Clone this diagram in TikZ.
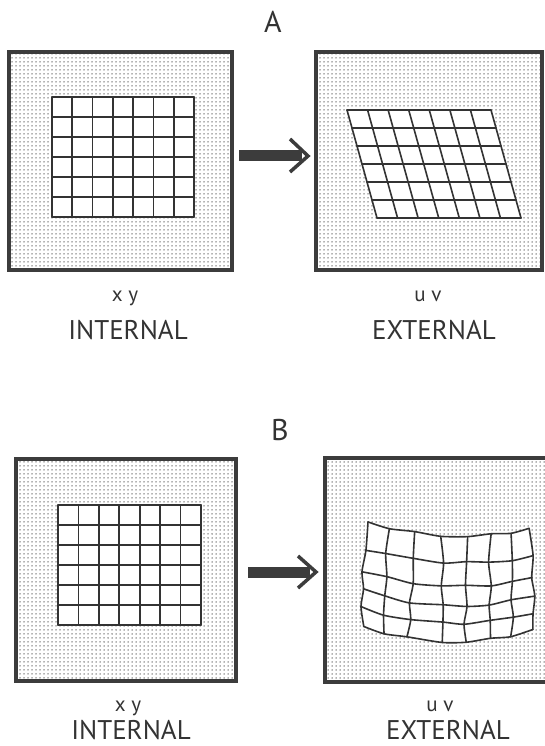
\documentclass[tikz,border=0pt]{standalone}
\usepackage{fontspec}
\setmainfont{PT Sans}
\usetikzlibrary{patterns}
\pgfdeclarepatternformonly{stipple}{\pgfqpoint{-1pt}{-1pt}}{\pgfqpoint{1pt}{1pt}}{\pgfqpoint{4pt}{4pt}}{\pgfpathcircle{\pgfqpoint{0pt}{0pt}}{0.75pt}\pgfusepath{fill}}
\definecolor{ink}{HTML}{333333}
\definecolor{framec}{HTML}{3C3C3C}
\begin{document}
\begin{tikzpicture}[x=1pt,y=-1pt,
  panel/.style={rectangle, draw=framec, line width=4.3pt, preaction={fill=white}, pattern=stipple, pattern color=black!60, inner sep=0pt, outer sep=0pt},
  gl/.style={draw=ink, line width=1.6pt, line join=round, line cap=round},
  shaft/.style={draw=framec, line width=11pt},
  barb/.style={draw=framec, line width=3.5pt, line join=miter},
  ttl/.style={text=ink, anchor=base, inner sep=0pt, font=\fontsize{30}{36}\selectfont},
  sml/.style={text=ink, anchor=base, inner sep=0pt, font=\fontsize{21}{25}\selectfont},
  big/.style={text=ink, anchor=base, inner sep=0pt, font=\fontsize{27}{32}\selectfont}]
\useasboundingbox (0,0) rectangle (545,746);
\fill[white] (0,0) rectangle (545,746);

% ---------------- Panel A ----------------
\node[ttl] (tA) at (273,33) {A};
\node[panel, minimum width=223pt, minimum height=218pt] (inA) at (120.5,161) {};
\node[panel, minimum width=226pt, minimum height=218pt] (exA) at (429,161) {};

% rectangular grid A
\fill[white] (52,97) rectangle (194,217);
\foreach \i in {0,...,7} \draw[gl] ({52+\i*142/7},97) -- ({52+\i*142/7},217);
\foreach \j in {0,...,6} \draw[gl] (52,{97+20*\j}) -- (194,{97+20*\j});

% sheared grid A
\fill[white] (347,110) -- (491,110) -- (521,218) -- (377,218) -- cycle;
\foreach \i in {0,...,7} \draw[gl] ({347+\i*144/7},110) -- ({377+\i*144/7},218);
\foreach \j in {0,...,6} \draw[gl] ({347+5*\j},{110+18*\j}) -- ({491+5*\j},{110+18*\j});

% arrow A
\coordinate (aA1) at (239,156);
\coordinate (aA2) at (302,156);
\coordinate (hA) at (308,156);
\draw[shaft] (aA1) -- (aA2);
\draw[barb] ([shift={(-18,-17)}]hA) -- (hA) -- ([shift={(-18,16)}]hA);

\node[sml] (xyA) at (125,301) {x y};
\node[big] (intA) at (128,339) {INTERNAL};
\node[sml] (uvA) at (428,301) {u v};
\node[big] (extA) at (434,339) {EXTERNAL};

% ---------------- Panel B ----------------
\node[ttl] (tB) at (280,440) {B};
\node[panel, minimum width=220pt, minimum height=222pt] (inB) at (126,570) {};
\node[panel, minimum width=227pt, minimum height=224pt] (exB) at (438.5,570) {};

% rectangular grid B
\fill[white] (58,505) rectangle (201,625);
\foreach \i in {0,...,7} \draw[gl] ({58+\i*143/7},505) -- ({58+\i*143/7},625);
\foreach \j in {0,...,6} \draw[gl] (58,{505+20*\j}) -- (201,{505+20*\j});

% distorted (hand-drawn) grid B
\foreach \j/\yl/\yr/\sg in {0/521/528/11.6, 1/549/557/9.2, 2/572/578/11.1, 3/590/596/13.1, 4/609/613/12.1, 5/627/630/13.6} {
  \foreach \i/\xt/\xb/\xg in {0/368/363/-3, 1/388/383/0, 2/415/408/0, 3/442/443/0, 4/467/465/0, 5/490/490/0, 6/512/512/0, 7/530/533/2} {
    \pgfmathsetmacro\px{\xt+(\xb-\xt)*\j/5+\xg*sin(36*\j)+1.4*sin(97*\i+151*\j)}
    \pgfmathsetmacro\py{\yl+(\yr-\yl)*((\px-365)/167)+\sg*4*((\px-365)/167)*((532-\px)/167)+1.2*sin(131*\i+71*\j)}
    \coordinate (g-\i-\j) at (\px,\py);
  }
}
\fill[white] (g-0-0) -- (g-1-0) -- (g-2-0) -- (g-3-0) -- (g-4-0) -- (g-5-0) -- (g-6-0) -- (g-7-0)
  -- (g-7-1) -- (g-7-2) -- (g-7-3) -- (g-7-4) -- (g-7-5)
  -- (g-6-5) -- (g-5-5) -- (g-4-5) -- (g-3-5) -- (g-2-5) -- (g-1-5) -- (g-0-5)
  -- (g-0-4) -- (g-0-3) -- (g-0-2) -- (g-0-1) -- cycle;
\foreach \j in {0,...,5}
  \draw[gl] plot[smooth, tension=0.4] coordinates {(g-0-\j) (g-1-\j) (g-2-\j) (g-3-\j) (g-4-\j) (g-5-\j) (g-6-\j) (g-7-\j)};
\foreach \i in {0,...,7}
  \draw[gl] plot[smooth, tension=0.4] coordinates {(g-\i-0) (g-\i-1) (g-\i-2) (g-\i-3) (g-\i-4) (g-\i-5)};

% arrow B
\coordinate (aB1) at (248,572);
\coordinate (aB2) at (310,572);
\coordinate (hB) at (316,572);
\draw[shaft] (aB1) -- (aB2);
\draw[barb] ([shift={(-18,-16)}]hB) -- (hB) -- ([shift={(-18,16)}]hB);

\node[sml] (xyB) at (128,711) {x y};
\node[big] (intB) at (131,739) {INTERNAL};
\node[sml] (uvB) at (440,711) {u v};
\node[big] (extB) at (448,739) {EXTERNAL};
\end{tikzpicture}
\end{document}
